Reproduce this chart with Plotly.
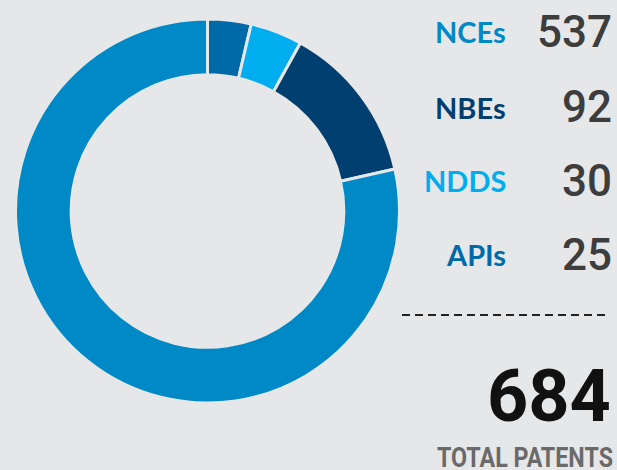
import plotly.graph_objects as go

# Data
categories = ["APIs", "NDDS", "NBEs", "NCEs"]
values = [25, 30, 92, 537]
colors = ["#0069a7", "#00aeef", "#003f6f", "#0089c7"]
legend_order = ["NCEs", "NBEs", "NDDS", "APIs"]
total_label = "TOTAL PATENTS"

W, H = 617, 470
BG = "#e6e7e9"

fig = go.Figure()
fig.add_trace(go.Pie(
    labels=categories,
    values=values,
    hole=0.71,
    sort=False,
    direction="clockwise",
    rotation=0,
    marker=dict(colors=colors, line=dict(color=BG, width=3)),
    textinfo="none",
    hoverinfo="label+value",
    showlegend=False,
    domain=dict(x=[15 / W, 400 / W], y=[1 - 403 / H, 1 - 19 / H]),
))

val_map = dict(zip(categories, values))
col_map = dict(zip(categories, colors))
row_y = [32, 107, 181, 255]

for name, yy in zip(legend_order, row_y):
    fig.add_annotation(
        x=508 / W, y=1 - yy / H, xref="paper", yref="paper",
        xanchor="right", yanchor="middle", showarrow=False,
        text=name,
        font=dict(family="Lato", size=29, color=col_map[name], weight="bold"),
    )
    fig.add_annotation(
        x=614 / W, y=1 - yy / H, xref="paper", yref="paper",
        xanchor="right", yanchor="middle", showarrow=False,
        text=str(val_map[name]),
        font=dict(family="Roboto", size=44, color="#3d3d3d", weight=500),
    )

# dashed separator
fig.add_shape(
    type="line", xref="paper", yref="paper",
    x0=402 / W, x1=609 / W, y0=1 - 315 / H, y1=1 - 315 / H,
    line=dict(color="#222222", width=2, dash="8px,5px"),
)

fig.add_annotation(
    x=613 / W, y=1 - 396 / H, xref="paper", yref="paper",
    xanchor="right", yanchor="middle", showarrow=False,
    text=str(sum(values)),
    font=dict(family="Roboto", size=72, color="#111111", weight="bold"),
)
fig.add_annotation(
    x=524.5 / W, y=1 - 457 / H, xref="paper", yref="paper",
    xanchor="center", yanchor="middle", showarrow=False,
    text=total_label,
    font=dict(family="Roboto", size=28, color="#6a6a6a", weight="bold"),
)

fig.update_layout(
    width=W, height=H,
    margin=dict(l=0, r=0, t=0, b=0),
    paper_bgcolor=BG, plot_bgcolor=BG,
)

post = (
    "document.body.style.margin='0';"
    "document.body.style.background='%s';"
    "document.querySelectorAll('text.annotation-text').forEach(function(t){"
    "if(t.textContent==='%s'){t.setAttribute('textLength','176');"
    "t.setAttribute('lengthAdjust','spacingAndGlyphs');}});"
) % (BG, total_label)

fig.write_html("out.html", config={"displayModeBar": False}, post_script=post)
